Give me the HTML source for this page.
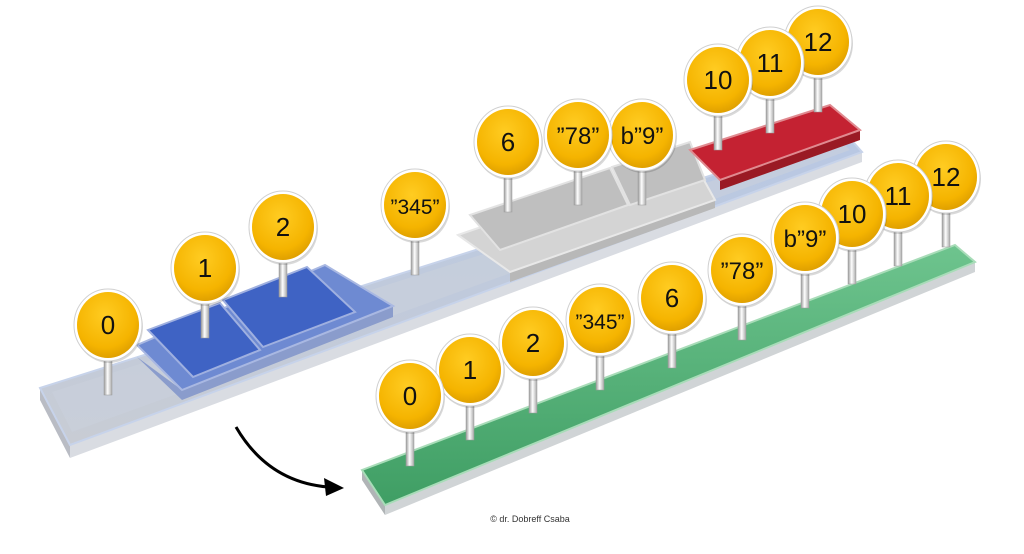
<!DOCTYPE html>
<html><head><style>
html,body{margin:0;padding:0;background:#fff;}
svg{display:block;}
text{font-family:"Liberation Sans",sans-serif;}
</style></head><body>
<svg width="1024" height="554" viewBox="0 0 1024 554" xmlns="http://www.w3.org/2000/svg">
<defs>
<radialGradient id="yg" cx="0.45" cy="0.35" r="0.7">
<stop offset="0" stop-color="#ffcc22"/><stop offset="0.7" stop-color="#f5b400"/><stop offset="1" stop-color="#d99a00"/>
</radialGradient>
<linearGradient id="stem" x1="0" x2="1">
<stop offset="0" stop-color="#9a9a9a"/><stop offset="0.45" stop-color="#ffffff"/><stop offset="1" stop-color="#a8a8a8"/>
</linearGradient>
<linearGradient id="bar" x1="0" y1="0" x2="0" y2="1">
<stop offset="0" stop-color="#b8c8e4"/><stop offset="1" stop-color="#c8ccd4"/>
</linearGradient>
<linearGradient id="green" x1="0" y1="0" x2="0" y2="1">
<stop offset="0" stop-color="#6ec48e"/><stop offset="1" stop-color="#3f9e64"/>
</linearGradient>
<g id="pin">
<rect x="-4" y="0" width="8" height="70" fill="url(#stem)" stroke="#999" stroke-width="0.5"/>
<ellipse cx="1" cy="2" rx="34" ry="36" fill="#000" opacity="0.15"/>
<ellipse cx="0" cy="0" rx="34" ry="36" fill="#fff" stroke="#d0d0d0" stroke-width="1"/>
<ellipse cx="0" cy="0" rx="31" ry="33" fill="url(#yg)"/>
</g>
</defs>

<!-- top bar -->
<polygon points="70,445 862,152 862,162 70,458" fill="#d9dce2"/>
<polygon points="40,388 70,445 70,458 40,400" fill="#b9bcc4"/>
<polygon points="40,388 845,133 862,152 70,445" fill="url(#bar)" stroke="#c7d3ea" stroke-width="2"/>
<polygon points="52,392 840,140 850,150 72,432" fill="#c9d0dc" opacity="0.6"/>

<!-- blue block -->
<polygon points="137,357 182,400 393,317 393,306 182,390" fill="#8a9ccc"/>
<polygon points="137,345 325,265 393,306 182,390" fill="#6e8ad2" stroke="#a9b8e2" stroke-width="2"/>
<polygon points="148,330 220,303 260,350 193,377" fill="#3f63c4" stroke="#9fb0e0" stroke-width="2"/>
<polygon points="223,300 307,267 355,312 263,347" fill="#3f63c4" stroke="#9fb0e0" stroke-width="2"/>

<!-- grey block -->
<polygon points="510,272 715,200 715,208 510,282" fill="#b8b8b8"/>
<polygon points="458,235 690,155 715,200 510,272" fill="#d4d4d4" stroke="#e8e8e8" stroke-width="2"/>
<polygon points="470,215 610,168 628,205 500,250" fill="#bfbfbf" stroke="#e2e2e2" stroke-width="2"/>
<polygon points="612,167 690,142 705,180 630,205" fill="#bfbfbf" stroke="#e2e2e2" stroke-width="2"/>

<!-- red block -->
<polygon points="720,180 860,130 860,140 720,190" fill="#9a1a24"/>
<polygon points="690,150 830,105 860,130 720,180" fill="#c42232" stroke="#e08a90" stroke-width="2"/>

<!-- green bar -->
<polygon points="385,505 975,262 975,272 385,515" fill="#d0d4d6"/>
<polygon points="362,470 385,505 385,515 362,480" fill="#b0b4b6"/>
<polygon points="362,470 955,245 975,262 385,505" fill="url(#green)" stroke="#a8dcb8" stroke-width="2"/>

<!-- top pins (right to left) -->
<g font-size="26" text-anchor="middle" fill="#111">
<use href="#pin" x="818" y="42"/><text x="818" y="51">12</text>
<use href="#pin" x="770" y="63"/><text x="770" y="72">11</text>
<use href="#pin" x="718" y="80"/><text x="718" y="89">10</text>
<use href="#pin" x="642" y="135"/><text x="642" y="144" font-size="24">b”9”</text>
<use href="#pin" x="578" y="135"/><text x="578" y="144" font-size="24">”78”</text>
<use href="#pin" x="508" y="142"/><text x="508" y="151">6</text>
<use href="#pin" x="415" y="205"/><text x="415" y="214" font-size="21">”345”</text>
<use href="#pin" x="283" y="227"/><text x="283" y="236">2</text>
<use href="#pin" x="205" y="268"/><text x="205" y="277">1</text>
<use href="#pin" x="108" y="325"/><text x="108" y="334">0</text>

<!-- bottom pins -->
<use href="#pin" x="946" y="177"/><text x="946" y="186">12</text>
<use href="#pin" x="898" y="196"/><text x="898" y="205">11</text>
<use href="#pin" x="852" y="214"/><text x="852" y="223">10</text>
<use href="#pin" x="805" y="238"/><text x="805" y="247" font-size="24">b”9”</text>
<use href="#pin" x="742" y="270"/><text x="742" y="279" font-size="24">”78”</text>
<use href="#pin" x="672" y="298"/><text x="672" y="307">6</text>
<use href="#pin" x="600" y="320"/><text x="600" y="329" font-size="21">”345”</text>
<use href="#pin" x="533" y="343"/><text x="533" y="352">2</text>
<use href="#pin" x="470" y="370"/><text x="470" y="379">1</text>
<use href="#pin" x="410" y="396"/><text x="410" y="405">0</text>
</g>

<!-- arrow -->
<path d="M236,427 Q268,482 328,487" fill="none" stroke="#000" stroke-width="3"/>
<polygon points="344,488 324,478 326,496" fill="#000"/>

<text x="530" y="522" font-size="9" fill="#333" text-anchor="middle">© dr. Dobreff Csaba</text>
</svg>
</body></html>
